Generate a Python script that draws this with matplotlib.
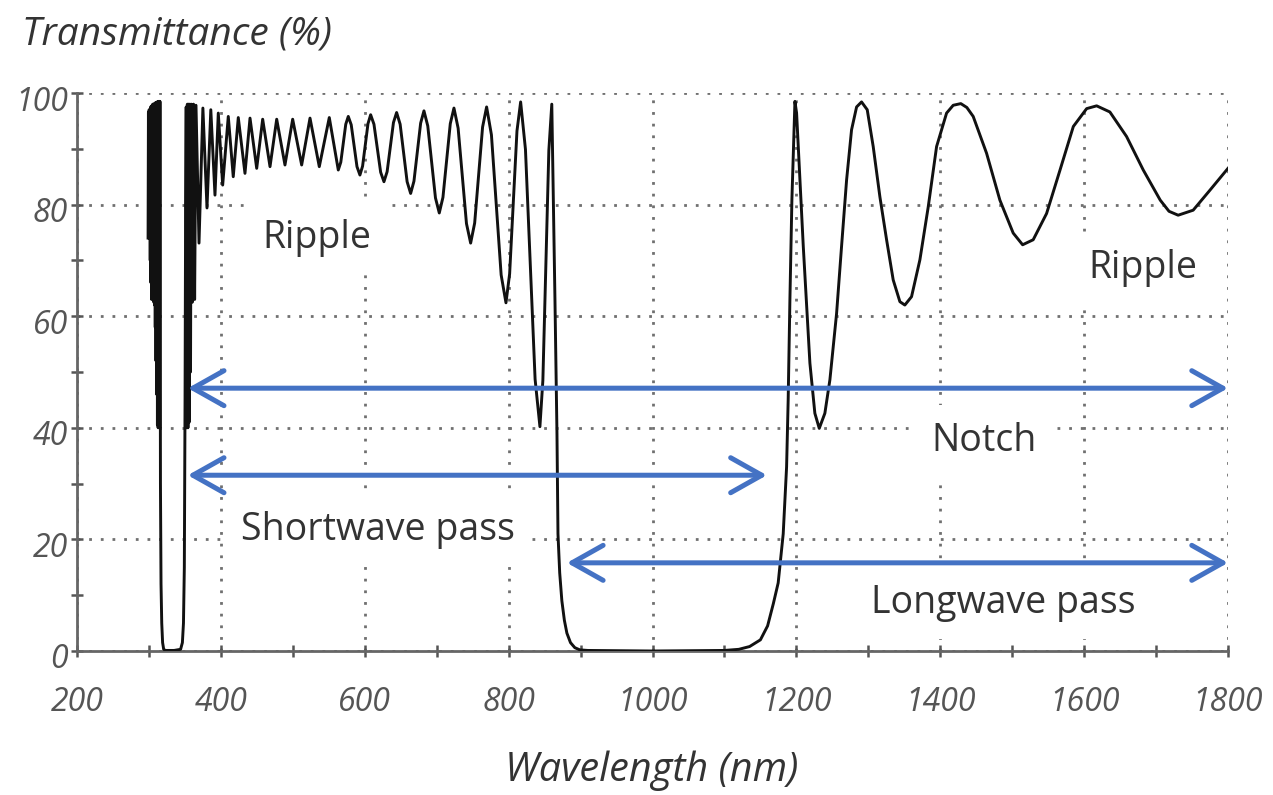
import matplotlib
matplotlib.use("Agg")
import matplotlib.pyplot as plt
import numpy as np
from matplotlib.patches import ArrowStyle
from matplotlib.transforms import ScaledTranslation

plt.rcParams['font.family'] = ['Open Sans', 'DejaVu Sans']

# UV side: dense ripple block, short notch, edge and first ripples
wl_uv = [298.8, 299.3, 299.8, 300.3, 300.8, 301.3, 301.8, 302.3, 302.8, 303.3,
         303.8, 304.3, 304.8, 305.3, 305.8, 306.3, 306.8, 307.3, 307.8, 308.3,
         308.8, 309.3, 309.8, 310.3, 310.8, 311.3, 311.8, 312.3, 312.8, 313.3,
         313.8, 314.3, 314.8, 315.3, 316.0, 316.8, 317.8, 319.0, 320.5, 323.0,
         335.0, 344.0, 346.5, 348.0, 349.2, 350.2, 351.0, 351.8, 352.6, 353.4,
         354.2, 355.0, 355.9, 356.8, 357.8, 358.8, 360.2, 362.0, 363.5, 365.4]
tr_uv = [74, 96.5, 74.5, 97, 74, 97, 70, 97.5, 66, 97.5,
         63, 97.8, 63.5, 98, 63, 98, 62.5, 98, 62, 98.2,
         58, 98.2, 52, 98.3, 46, 98.4, 40.5, 98.4, 40, 98.5,
         41, 98.5, 40, 98.5, 30, 12, 5, 1.5, 0.3, 0.1,
         0.1, 0.3, 1.5, 5, 15, 45, 80, 97.5, 40, 98,
         40, 98, 41, 98, 50, 98, 62.5, 98, 63, 97.8]

# shortwave pass band ripple
wl_short = [369.6, 375.0, 380.7, 386.0, 391.8, 396.4, 402.5, 410.3, 417.2, 424.2,
            433.5, 440.5, 449.8, 458.1, 468.3, 477.6, 489.1, 499.8, 512.3, 523.9,
            536.8, 550.7, 563.2, 566.7, 573.6, 577.1, 581.2, 589.2, 593.3, 597.0,
            604.5, 608.2, 612.8, 622.1, 626.7, 631.1, 639.9, 644.3, 649.2, 658.9,
            663.8, 668.4, 677.7, 682.3, 687.6, 698.3, 703.6, 708.7, 718.9, 724.0,
            729.8, 741.4, 747.2, 752.8, 763.8, 769.4, 776.1, 789.6, 796.3, 801.4,
            811.6, 816.7, 823.4, 836.8, 843.5, 847.6, 855.9, 860.0]
tr_short = [73.1, 97.3, 79.4, 97.0, 81.7, 96.4, 83.5, 95.8, 85.0, 95.6,
            85.6, 95.5, 86.5, 95.3, 86.8, 95.3, 87.1, 95.3, 87.1, 95.5,
            86.8, 95.6, 86.2, 87.6, 94.4, 95.8, 94.3, 86.8, 85.3, 86.9,
            94.5, 96.1, 94.4, 85.8, 84.1, 85.9, 94.7, 96.5, 94.4, 84.1,
            82.0, 84.2, 94.6, 96.8, 94.1, 81.2, 78.5, 81.3, 94.5, 97.3,
            93.7, 76.6, 73.1, 76.7, 93.9, 97.5, 92.5, 67.4, 62.4, 67.6,
            93.2, 98.4, 89.9, 48.7, 40.2, 48.5, 89.7, 98.0]

# main stop band
wl_stop = [864.4, 867.2, 868.6, 871.0, 874.0, 877.5, 881.0, 886.0, 892.0, 899.0,
           910.0, 1000.0, 1100.0, 1120.0, 1135.0, 1150.0, 1160.0, 1168.0, 1174.7, 1181.7,
           1186.4, 1188.6, 1191.0, 1193.8, 1198.0]
tr_stop = [63.0, 39.0, 21.0, 14.0, 9.0, 5.5, 3.2, 1.5, 0.6, 0.2,
           0.1, 0.0, 0.1, 0.3, 0.8, 2.0, 4.5, 8.5, 12.2, 21.0,
           33.0, 45.0, 62.9, 81.0, 98.5]

# longwave pass band ripple
wl_long = [1200.3, 1209.6, 1218.8, 1225.7, 1231.8, 1239.6, 1246.6, 1255.9, 1262.8, 1269.8,
           1276.7, 1283.7, 1290.6, 1298.5, 1306.8, 1316.1, 1325.4, 1334.6, 1343.9, 1350.8,
           1360.1, 1371.7, 1383.3, 1394.9, 1408.8, 1418.0, 1428.6, 1437.0, 1445.8, 1464.4,
           1482.9, 1501.4, 1514.5, 1529.2, 1547.8, 1566.5, 1585.0, 1603.5, 1617.4, 1635.8,
           1659.0, 1682.2, 1705.8, 1718.0, 1730.7, 1751.6, 1775.0, 1800.0]
tr_long = [96.4, 72.5, 51.6, 42.6, 39.9, 42.6, 48.6, 60.5, 72.5, 84.4,
           93.4, 97.5, 98.4, 97.0, 90.4, 81.4, 73.7, 66.5, 62.6, 62.0,
           63.5, 70.1, 79.6, 90.4, 96.4, 97.8, 98.1, 97.4, 95.8, 89.2,
           80.8, 74.9, 72.8, 73.7, 78.4, 86.2, 94.0, 97.2, 97.7, 96.6,
           92.2, 86.2, 80.8, 78.8, 78.1, 79.0, 82.6, 86.5]

x_ticks = [200, 400, 600, 800, 1000, 1200, 1400, 1600, 1800]
y_ticks = [0, 20, 40, 60, 80, 100]

labels = ['Ripple', 'Ripple', 'Notch', 'Shortwave pass', 'Longwave pass']
label_x = [534, 1682, 1461, 618, 1488]
label_y = [74.0, 68.6, 37.6, 21.7, 8.6]

arrow_y = [47.1, 31.5, 15.8]
arrow_from = [354, 354, 881]
arrow_to = [1800, 1159, 1800]

wl = np.concatenate([wl_uv, wl_short, wl_stop, wl_long])
tr = np.concatenate([tr_uv, tr_short, tr_stop, tr_long])

fig = plt.figure(figsize=(12.73, 7.95), dpi=100)
ax = fig.add_axes([77 / 1273, 144 / 795, 1151 / 1273, 558 / 795])

ax.plot(wl, tr, color='#111111', linewidth=2.1, zorder=4, solid_joinstyle='round')

ax.set_xlim(200, 1800)
ax.set_ylim(0, 100)
ax.set_xticks(x_ticks)
ax.set_yticks(y_ticks)
ax.set_xticks(np.arange(300, 1800, 200), minor=True)
ax.set_yticks(np.arange(10, 100, 20), minor=True)

ax.grid(which='major', linestyle=(0, (1, 3.2)), color='#707070', linewidth=2, zorder=1)
for s in ['top', 'right']:
    ax.spines[s].set_visible(False)
for s in ['left', 'bottom']:
    ax.spines[s].set_color('#666666')
    ax.spines[s].set_linewidth(2)

ax.tick_params(which='both', direction='inout', length=9, width=1.8, color='#555555')
ax.tick_params(axis='x', pad=21, labelsize=23, labelcolor='#555555')
ax.tick_params(axis='y', pad=2, labelsize=23, labelcolor='#555555')
for lab in ax.get_xticklabels() + ax.get_yticklabels():
    lab.set_fontstyle('italic')
for lab in ax.get_yticklabels():
    lab.set_transform(lab.get_transform() + ScaledTranslation(0, -0.05, fig.dpi_scale_trans))

for txt, x, y in zip(labels, label_x, label_y):
    ax.text(x, y, txt, fontsize=27, color='#333333', ha='center', va='center', zorder=3,
            bbox=dict(boxstyle='square,pad=0.45', facecolor='white', edgecolor='none'))

style = ArrowStyle('<->', head_length=0.8, head_width=0.45)
for y, x0, x1 in zip(arrow_y, arrow_from, arrow_to):
    ax.annotate('', xy=(x1, y), xytext=(x0, y),
                arrowprops=dict(arrowstyle=style, color='#4472C4', linewidth=3.6,
                                mutation_scale=28, shrinkA=0, shrinkB=0),
                annotation_clip=False, zorder=5)

fig.text(22 / 1273, 1 - 35 / 795, 'Transmittance (%)', fontsize=28, fontstyle='italic',
         color='#333333', ha='left', va='center')
fig.text(652 / 1273, 1 - 771 / 795, 'Wavelength (nm)', fontsize=28.5, fontstyle='italic',
         color='#333333', ha='center', va='center')

fig.savefig('out.png', dpi=100)
